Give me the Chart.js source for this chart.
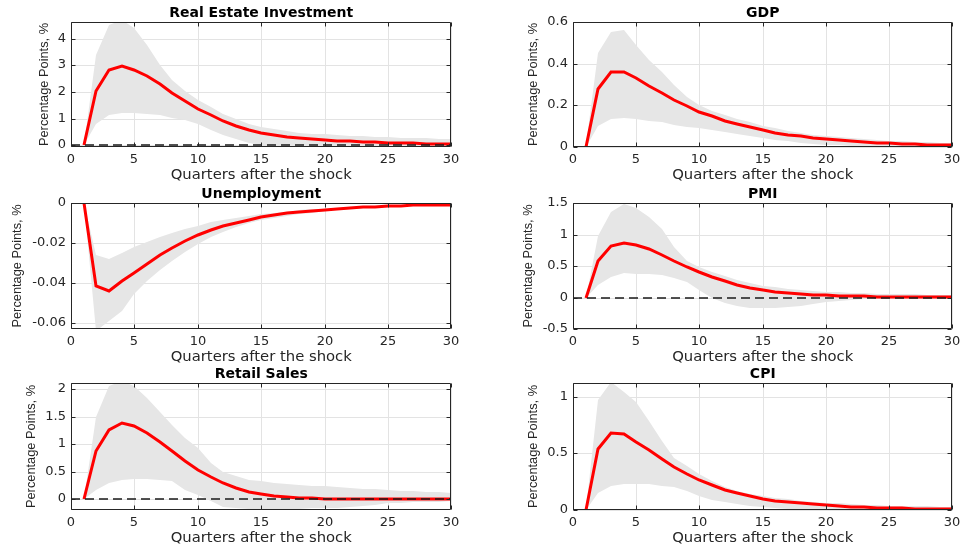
<!DOCTYPE html>
<html>
<head>
<meta charset="utf-8">
<script src="https://cdn.jsdelivr.net/npm/chart.js@4.4.1/dist/chart.umd.min.js"></script>
<style>
html, body { margin: 0; padding: 0; background: #ffffff; }
body { width: 966px; height: 554px; position: relative; overflow: hidden; }
canvas { position: absolute; }
</style>
</head>
<body>
<canvas id="c1"></canvas>
<canvas id="c2"></canvas>
<canvas id="c3"></canvas>
<canvas id="c4"></canvas>
<canvas id="c5"></canvas>
<canvas id="c6"></canvas>
<script>
// ---------------- DATA ----------------
const quarters = [1,2,3,4,5,6,7,8,9,10,11,12,13,14,15,16,17,18,19,20,21,22,23,24,25,26,27,28,29,30];
const xRange = [0, 30];
const xTicks = [0, 5, 10, 15, 20, 25, 30];
const xTitle = 'Quarters after the shock';
const yTitle = 'Percentage Points, %';

const panelTitles = ['Real Estate Investment', 'GDP', 'Unemployment', 'PMI', 'Retail Sales', 'CPI'];

// Real Estate Investment
const reiMedian = [0, 2.03, 2.81, 2.98, 2.84, 2.59, 2.29, 1.98, 1.66, 1.38, 1.13, 0.9, 0.73, 0.59, 0.48, 0.4, 0.33, 0.28, 0.24, 0.2, 0.17, 0.15, 0.13, 0.11, 0.095, 0.085, 0.075, 0.065, 0.058, 0.05];
const reiUpper  = [0, 3.38, 4.5, 4.7, 4.38, 3.75, 3.0, 2.44, 2.03, 1.69, 1.44, 1.19, 0.98, 0.81, 0.69, 0.6, 0.53, 0.48, 0.44, 0.41, 0.38, 0.36, 0.34, 0.32, 0.3, 0.29, 0.27, 0.26, 0.25, 0.24];
const reiLower  = [0, 0.81, 1.13, 1.21, 1.21, 1.18, 1.13, 1.04, 0.96, 0.81, 0.56, 0.38, 0.23, 0.1, 0.03, -0.02, -0.03, -0.03, -0.03, -0.03, -0.02, -0.02, -0.02, -0.01, -0.01, -0.01, 0, 0, 0, 0];
const reiTicks  = [0, 1, 2, 3, 4];
const reiRange  = [-0.06, 4.62];

// GDP
const gdpMedian = [0, 0.28, 0.36, 0.36, 0.33, 0.295, 0.26, 0.225, 0.195, 0.17, 0.147, 0.127, 0.11, 0.094, 0.08, 0.069, 0.06, 0.052, 0.044, 0.038, 0.033, 0.028, 0.024, 0.021, 0.018, 0.016, 0.014, 0.012, 0.011, 0.01];
const gdpUpper  = [0.01, 0.45, 0.55, 0.56, 0.49, 0.42, 0.36, 0.3, 0.24, 0.2, 0.175, 0.155, 0.135, 0.118, 0.102, 0.09, 0.078, 0.068, 0.06, 0.052, 0.046, 0.041, 0.037, 0.033, 0.03, 0.027, 0.025, 0.023, 0.021, 0.02];
const gdpLower  = [0, 0.1, 0.135, 0.14, 0.135, 0.127, 0.118, 0.108, 0.098, 0.09, 0.082, 0.072, 0.062, 0.052, 0.042, 0.034, 0.027, 0.021, 0.016, 0.012, 0.009, 0.007, 0.005, 0.004, 0.003, 0.002, 0.002, 0.001, 0.001, 0];
const gdpTicks  = [0, 0.2, 0.4, 0.6];
const gdpRange  = [0, 0.6];

// Unemployment
const unMedian = [0, -0.0413, -0.0442, -0.039, -0.0348, -0.0303, -0.0262, -0.0224, -0.019, -0.016, -0.0136, -0.0116, -0.0098, -0.0083, -0.007, -0.006, -0.0052, -0.0045, -0.0039, -0.0034, -0.003, -0.0026, -0.0022, -0.0019, -0.0017, -0.0014, -0.0012, -0.001, -0.0009, -0.0008];
const unUpper  = [0, -0.026, -0.0282, -0.025, -0.022, -0.0197, -0.017, -0.015, -0.013, -0.0113, -0.0097, -0.0085, -0.0075, -0.0065, -0.0056, -0.0049, -0.0043, -0.0037, -0.0032, -0.0028, -0.0024, -0.0021, -0.0018, -0.0015, -0.0013, -0.0011, -0.0009, -0.0008, -0.0007, -0.0006];
const unLower  = [0, -0.064, -0.0588, -0.054, -0.0455, -0.039, -0.0335, -0.029, -0.0247, -0.0205, -0.017, -0.0147, -0.0122, -0.0102, -0.0087, -0.0075, -0.0065, -0.0056, -0.0048, -0.0042, -0.0036, -0.0031, -0.0027, -0.0023, -0.002, -0.0017, -0.0015, -0.0013, -0.0011, -0.001];
const unTicks  = [-0.06, -0.04, -0.02, 0];
const unRange  = [-0.063, 0];

// PMI
const pmiMedian = [0, 0.579, 0.816, 0.868, 0.832, 0.763, 0.674, 0.579, 0.49, 0.4, 0.325, 0.258, 0.2, 0.152, 0.115, 0.087, 0.066, 0.05, 0.04, 0.032, 0.025, 0.02, 0.016, 0.013, 0.01, 0.008, 0.007, 0.006, 0.005, 0.004];
const pmiUpper  = [0, 0.98, 1.36, 1.48, 1.42, 1.28, 1.09, 0.8, 0.58, 0.49, 0.41, 0.34, 0.28, 0.226, 0.19, 0.16, 0.14, 0.12, 0.1, 0.09, 0.08, 0.07, 0.065, 0.06, 0.055, 0.05, 0.05, 0.045, 0.045, 0.045];
const pmiLower  = [0, 0.2, 0.33, 0.384, 0.38, 0.374, 0.358, 0.31, 0.245, 0.125, 0.0, -0.09, -0.135, -0.168, -0.168, -0.165, -0.15, -0.13, -0.1, -0.07, -0.05, -0.035, -0.025, -0.02, -0.015, -0.012, -0.01, -0.008, -0.006, -0.005];
const pmiTicks  = [-0.5, 0, 0.5, 1, 1.5];
const pmiRange  = [-0.5, 1.5];

// Retail Sales
const rsMedian = [0, 0.867, 1.26, 1.376, 1.333, 1.2, 1.036, 0.867, 0.697, 0.533, 0.4, 0.29, 0.2, 0.135, 0.09, 0.06, 0.04, 0.025, 0.015, 0.008, 0.003, 0, -0.002, -0.003, -0.003, -0.003, -0.003, -0.003, -0.003, -0.003];
const rsUpper  = [0, 1.5, 2.05, 2.15, 2.05, 1.84, 1.59, 1.35, 1.11, 0.93, 0.65, 0.5, 0.41, 0.35, 0.32, 0.29, 0.27, 0.25, 0.24, 0.23, 0.22, 0.2, 0.19, 0.18, 0.16, 0.15, 0.14, 0.13, 0.12, 0.11];
const rsLower  = [0, 0.17, 0.29, 0.345, 0.357, 0.357, 0.35, 0.333, 0.17, 0.08, -0.04, -0.15, -0.17, -0.19, -0.2, -0.2, -0.19, -0.18, -0.17, -0.16, -0.16, -0.15, -0.12, -0.1, -0.08, -0.07, -0.06, -0.05, -0.05, -0.04];
const rsTicks  = [0, 0.5, 1, 1.5, 2];
const rsRange  = [-0.2, 2.11];

// CPI
const cpiMedian = [0, 0.535, 0.675, 0.669, 0.604, 0.527, 0.453, 0.382, 0.32, 0.266, 0.219, 0.18, 0.148, 0.121, 0.1, 0.083, 0.07, 0.058, 0.049, 0.041, 0.034, 0.029, 0.024, 0.02, 0.017, 0.014, 0.012, 0.01, 0.009, 0.008];
const cpiUpper  = [0.01, 0.97, 1.13, 1.04, 0.95, 0.787, 0.61, 0.462, 0.388, 0.314, 0.254, 0.2, 0.166, 0.14, 0.125, 0.11, 0.095, 0.083, 0.073, 0.065, 0.058, 0.052, 0.047, 0.043, 0.039, 0.036, 0.033, 0.031, 0.029, 0.027];
const cpiLower  = [0, 0.15, 0.21, 0.23, 0.23, 0.225, 0.216, 0.2, 0.166, 0.121, 0.092, 0.068, 0.053, 0.038, 0.024, 0.015, 0.009, 0.005, 0.003, 0.001, 0.001, 0, 0, 0, 0, 0, 0, 0, 0, 0];
const cpiTicks  = [0, 0.5, 1];
const cpiRange  = [0, 1.12];

// --------------- LAYOUT (positions / sizes) ---------------
const layoutBoxes = [
  { id: 'c1', left: 5,   top: 0,   width: 460, height: 185, padRight: 12, yTitleInset: 32.0 },
  { id: 'c2', left: 507, top: 0,   width: 459, height: 185, padRight: 11, yTitleInset: 18.6 },
  { id: 'c3', left: 5,   top: 181, width: 460, height: 186, padRight: 12, yTitleInset: 4.8 },
  { id: 'c4', left: 507, top: 181, width: 459, height: 186, padRight: 11, yTitleInset: 13.6 },
  { id: 'c5', left: 5,   top: 361, width: 460, height: 187, padRight: 12, yTitleInset: 19.0 },
  { id: 'c6', left: 507, top: 361, width: 459, height: 187, padRight: 11, yTitleInset: 18.6 }
];
const Y_AXIS_WIDTH = 66;
const X_AXIS_HEIGHT = 38;

// --------------- STYLES ---------------
const COLORS = { band: '#e6e6e6', median: '#ff0000', zero: '#1a1a1a', grid: '#e3e3e3', axis: '#262626', title: '#000000' };

// --------------- BUILD ---------------
const series = [
  [reiMedian, reiUpper, reiLower, reiTicks, reiRange],
  [gdpMedian, gdpUpper, gdpLower, gdpTicks, gdpRange],
  [unMedian,  unUpper,  unLower,  unTicks,  unRange],
  [pmiMedian, pmiUpper, pmiLower, pmiTicks, pmiRange],
  [rsMedian,  rsUpper,  rsLower,  rsTicks,  rsRange],
  [cpiMedian, cpiUpper, cpiLower, cpiTicks, cpiRange]
];

function toPoints(xs, ys) { return ys.map((y, i) => ({ x: xs[i], y: y })); }
function fmt(v) { return String(parseFloat(Number(v).toFixed(4))); }

const framePlugin = {
  id: 'matlabFrame',
  afterDatasetsDraw(chart) {
    const { ctx, chartArea: a, scales } = chart;
    const xs = scales.x, ys = scales.y;
    const L = Math.round(a.left) + 0.5, R = Math.round(a.right) - 0.5;
    const T = Math.round(a.top) + 0.5, B = Math.round(a.bottom) - 0.5;
    const tl = 4;
    ctx.save();
    ctx.strokeStyle = COLORS.axis;
    ctx.lineWidth = 1;
    ctx.setLineDash([]);
    ctx.beginPath();
    ctx.rect(L, T, R - L, B - T);
    xs.ticks.forEach(t => {
      const px = Math.round(xs.getPixelForValue(t.value)) + 0.5;
      ctx.moveTo(px, B); ctx.lineTo(px, B - tl);
      ctx.moveTo(px, T); ctx.lineTo(px, T + tl);
    });
    ys.ticks.forEach(t => {
      const py = Math.round(ys.getPixelForValue(t.value)) + 0.5;
      ctx.moveTo(L, py); ctx.lineTo(L + tl, py);
      ctx.moveTo(R, py); ctx.lineTo(R - tl, py);
    });
    ctx.stroke();
    ctx.restore();
  }
};

layoutBoxes.forEach((box, i) => {
  const [med, up, lo, yTicks, yRange] = series[i];
  const cv = document.getElementById(box.id);
  cv.width = box.width; cv.height = box.height;
  cv.style.left = box.left + 'px'; cv.style.top = box.top + 'px';
  cv.style.width = box.width + 'px'; cv.style.height = box.height + 'px';

  new Chart(cv, {
    type: 'line',
    data: {
      datasets: [
        { label: 'upper', data: toPoints(quarters, up), borderWidth: 0, pointRadius: 0, fill: '+1', backgroundColor: COLORS.band, borderColor: 'rgba(0,0,0,0)', order: 3 },
        { label: 'lower', data: toPoints(quarters, lo), borderWidth: 0, pointRadius: 0, fill: false, borderColor: 'rgba(0,0,0,0)', order: 4 },
        { label: 'median', data: toPoints(quarters, med), borderColor: COLORS.median, borderWidth: 3, pointRadius: 0, fill: false, tension: 0, order: 2 },
        { label: 'zero', data: [{ x: xRange[0], y: 0 }, { x: xRange[1], y: 0 }], borderColor: COLORS.zero, borderWidth: 1.4, borderDash: [9, 5], pointRadius: 0, fill: false, order: 1 }
      ]
    },
    options: {
      responsive: false,
      animation: false,
      events: [],
      devicePixelRatio: 1,
      layout: { padding: { left: 0, right: box.padRight, top: 0, bottom: 0 } },
      plugins: {
        legend: { display: false },
        tooltip: { enabled: false },
        title: {
          display: true, text: panelTitles[i], fullSize: false, color: COLORS.title,
          font: { family: 'DejaVu Sans', size: 14, weight: 'bold', lineHeight: 1.2 },
          padding: { top: 4.6, bottom: 0.6 }
        }
      },
      scales: {
        x: {
          type: 'linear', min: xRange[0], max: xRange[1], alignToPixels: true,
          afterBuildTicks: s => { s.ticks = xTicks.map(v => ({ value: v })); },
          afterFit: s => { s.height = X_AXIS_HEIGHT; },
          grid: { color: COLORS.grid, lineWidth: 1, drawTicks: false },
          border: { display: false },
          ticks: { color: COLORS.axis, font: { family: 'DejaVu Sans', size: 13 }, padding: 5, maxRotation: 0, autoSkip: false, callback: v => fmt(v) },
          title: { display: true, text: xTitle, color: COLORS.axis, font: { family: 'DejaVu Sans', size: 14.8, lineHeight: 1.2 }, padding: { top: 0, bottom: 1.1 } }
        },
        y: {
          type: 'linear', min: yRange[0], max: yRange[1], alignToPixels: true,
          afterBuildTicks: s => { s.ticks = yTicks.map(v => ({ value: v })); },
          afterFit: s => { s.width = Y_AXIS_WIDTH; },
          grid: { color: COLORS.grid, lineWidth: 1, drawTicks: false },
          border: { display: false },
          ticks: { color: COLORS.axis, font: { family: 'DejaVu Sans', size: 13 }, padding: 5, autoSkip: false, callback: v => fmt(v) },
          title: { display: true, text: yTitle, color: COLORS.axis, font: { family: 'Liberation Sans', size: 12.8, lineHeight: 1.2 }, padding: { top: box.yTitleInset, bottom: 0 } }
        }
      }
    },
    plugins: [framePlugin]
  });
});
</script>
</body>
</html>
